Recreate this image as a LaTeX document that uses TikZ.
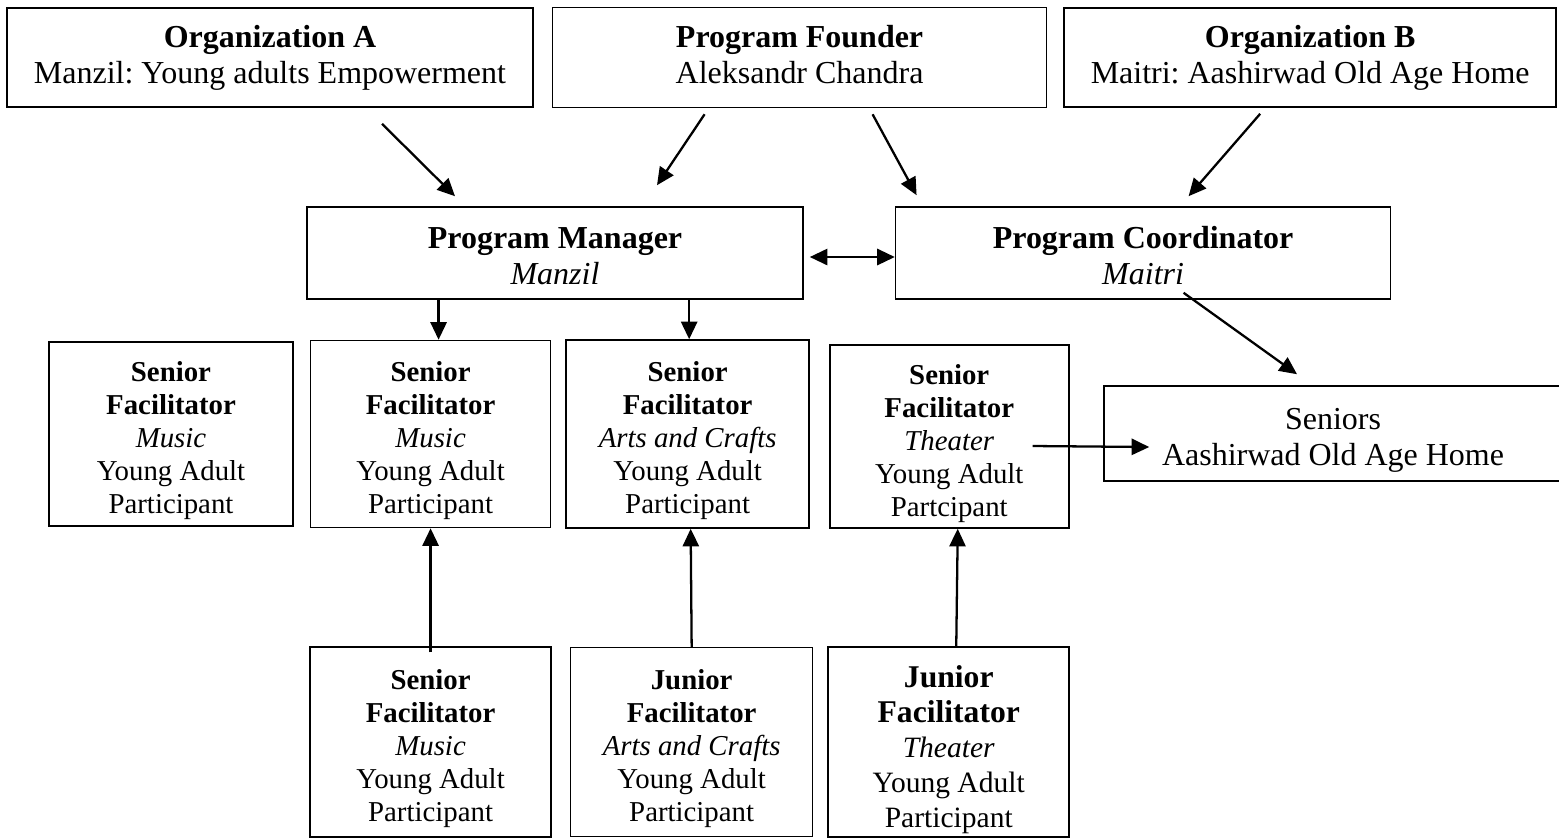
\documentclass[tikz,border=0pt]{standalone}
\usepackage{fontspec}
\setmainfont{Liberation Serif}
\usetikzlibrary{arrows.meta,calc,positioning}
\frenchspacing

\newcommand{\bigtxt}{\fontsize{9.1}{10.2}\selectfont}
\newcommand{\smalltxt}{\fontsize{8.2}{9.4}\selectfont}
\newcommand{\factext}[3]{\textbf{#1}\rule{0pt}{9.6pt}\\\textbf{Facilitator}\\\textit{#2}\\Young Adult\\#3}

\begin{document}
\begin{tikzpicture}[>={Triangle[length=5pt,width=4.6pt]}, node distance=0.16cm,
    box/.style={draw, line width=0.45pt, align=center, inner sep=0pt},
    topbox/.style={box, minimum height=0.99cm, font=\bigtxt},
    facbox/.style={box, minimum width=2.41cm, minimum height=1.87cm, font=\smalltxt},
    link/.style={->, line width=0.65pt}]
    \useasboundingbox (0,0) rectangle (15.59,-8.39);

    % top row
    \node[topbox, minimum width=5.26cm]                      (orgA)    at (2.70,-0.575)           {\textbf{Organization A}\\Manzil: Young adults Empowerment};
    \node[topbox, minimum width=4.94cm, minimum height=1cm]  (founder) [right=0.18cm of orgA]     {\textbf{Program Founder}\\Aleksandr Chandra\rule[-1.7pt]{0pt}{1.7pt}};
    \node[topbox, minimum width=4.92cm]                      (orgB)    [right=0.16cm of founder]  {\textbf{Organization B}\\Maitri: Aashirwad Old Age Home};

    % management
    \node[topbox, minimum width=4.96cm, minimum height=0.92cm] (manager) at (5.55,-2.53)            {\textbf{Program Manager}\rule{0pt}{8pt}\\\textit{Manzil}};
    \node[topbox, minimum width=4.95cm, minimum height=0.92cm] (coord)   [right=0.91cm of manager]  {\textbf{Program Coordinator}\rule{0pt}{8pt}\\\textit{Maitri}};

    % senior facilitators
    \node[facbox, minimum width=2.44cm, minimum height=1.84cm] (sfA) at (1.71,-4.34)          {\factext{Senior}{Music}{Participant}};
    \node[facbox, minimum width=2.40cm]                        (sfB) [right=0.16cm of sfA]    {\factext{Senior}{Music}{Participant}};
    \node[facbox, minimum width=2.43cm, minimum height=1.88cm] (sfC) [right=0.14cm of sfB]    {\factext{Senior}{Arts and Crafts}{Participant}};
    \node[facbox, minimum width=2.39cm, minimum height=1.83cm] (sfD) [right=0.19cm of sfC, yshift=-0.025cm] {\factext{Senior}{Theater}{Partcipant}};

    \node[topbox, minimum width=4.58cm, minimum height=0.95cm] (seniors) at (13.33,-4.335)    {Seniors\rule{0pt}{10pt}\\Aashirwad Old Age Home};

    % bottom row
    \node[facbox, minimum height=1.90cm]                       (sfE) [below=1.18cm of sfB]    {\factext{Senior}{Music}{Participant}};
    \node[facbox, minimum width=2.42cm, minimum height=1.89cm] (jfC) [right=0.18cm of sfE]    {\factext{Junior}{Arts and Crafts}{Participant}};
    \node[facbox, minimum height=1.90cm, font=\fontsize{8.4}{9.9}\selectfont] (jfD) [right=0.14cm of jfC]
        {{\fontsize{9}{9.9}\selectfont\textbf{Junior}}\rule{0pt}{10.5pt}\\{\fontsize{9}{9.9}\selectfont\textbf{Facilitator}}\\\textit{Theater}\\Young Adult\\Participant};

    % connectors
    \coordinate (toB) at ($(sfB.north)+(0.08,0)$);
    \coordinate (toC) at ($(sfC.north)+(0.015,0)$);
    \draw[link] ($(orgA.south)+(1.12,-0.16)$)     -- ($(manager.north)+(-1.00,0.10)$);
    \draw[link] ($(founder.south)+(-0.95,-0.06)$) -- ($(manager.north)+(1.02,0.21)$);
    \draw[link] ($(founder.south)+(0.73,-0.06)$)  -- ($(coord.north)+(-2.265,0.11)$);
    \draw[link] ($(orgB.south)+(-0.50,-0.06)$)    -- ($(coord.north)+(0.455,0.10)$);
    \draw[link, <->] ($(manager.east)+(0.06,-0.04)$) -- ($(coord.west)+(0,-0.04)$);
    \draw[link] (toB |- manager.south)            -- (toB);
    \draw[link] (toC |- manager.south)            -- (toC);
    \draw[link] ($(coord.south)+(0.405,0.07)$)    -- ($(seniors.north)+(-0.36,0.11)$);
    \draw[link] ($(sfD.east)+(-0.37,-0.095)$)     -- ($(seniors.west)+(0.46,-0.135)$);
    \draw[link] ($(sfE.north)+(0,-0.06)$)         -- (sfB.south);
    \draw[link] (jfC.north)                       -- ($(sfC.south)+(0.03,0)$);
    \draw[link] ($(jfD.north)+(0.075,0)$)         -- ($(sfD.south)+(0.085,0)$);
\end{tikzpicture}
\end{document}
